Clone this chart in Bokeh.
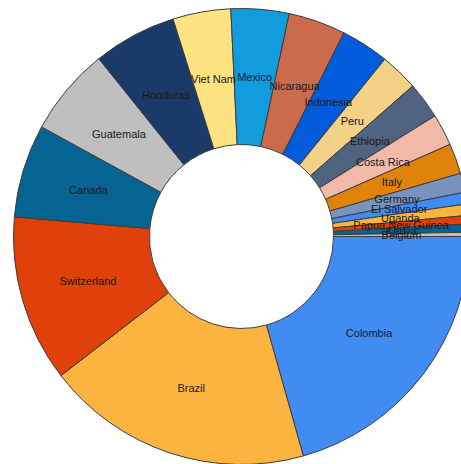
import numpy as np
from bokeh.plotting import figure
from bokeh.models import ColumnDataSource, Range1d
from bokeh.core.properties import value
from bokeh.embed import file_html
from bokeh.resources import INLINE

countries = ["Colombia", "Brazil", "Switzerland", "Canada", "Guatemala", "Honduras",
             "Viet Nam", "Mexico", "Nicaragua", "Indonesia", "Peru", "Ethiopia",
             "Costa Rica", "Italy", "Germany", "El Salvador", "Uganda",
             "Papua New Guinea", "Kenya", "Belgium"]
shares = [20.6, 18.9, 11.8, 6.6, 6.25, 5.9, 4.1, 4.1, 4.05, 3.4, 2.7, 2.6,
          2.25, 2.15, 1.35, 0.83, 0.8, 0.6, 0.58, 0.3]
palette = ["#418CF0", "#FCB441", "#E0400A", "#056492", "#BFBFBF", "#1A3B69",
           "#FFE382", "#129CDD", "#CA6B4B", "#005CDB", "#F3D288", "#506381",
           "#F1B9A8", "#E0830A", "#7893BE"]

W, H = 461, 464
cx, cy = 241, 236
r_in, r_out = 92, 228

vals = np.array(shares, dtype=float)
frac = vals / vals.sum()
ends = np.cumsum(frac) * 2 * np.pi
starts = ends - frac * 2 * np.pi
mids = (starts + ends) / 2
r_lab = (r_in + r_out) / 2

src = ColumnDataSource(dict(
    country=countries,
    start=-starts,
    end=-ends,
    color=[palette[i % len(palette)] for i in range(len(countries))],
    lx=r_lab * np.cos(-mids),
    ly=r_lab * np.sin(-mids),
))

p = figure(width=W, height=H, output_backend="svg", toolbar_location=None,
           x_range=Range1d(-cx, W - cx), y_range=Range1d(-(H - cy), cy),
           min_border=0)
p.axis.visible = False
p.grid.visible = False
p.outline_line_color = None
p.background_fill_color = "white"

p.annular_wedge(x=0, y=0, inner_radius=r_in, outer_radius=r_out,
                start_angle="start", end_angle="end", direction="clock",
                fill_color="color", line_color="#3c3c3c", line_width=1,
                source=src)

p.text(x="lx", y="ly", text="country", source=src,
       text_align="center", text_baseline="middle",
       text_font=value("Liberation Sans"), text_font_size="11px",
       text_color="#1a1a1a")

open("out.html", "w").write(file_html(p, INLINE))
